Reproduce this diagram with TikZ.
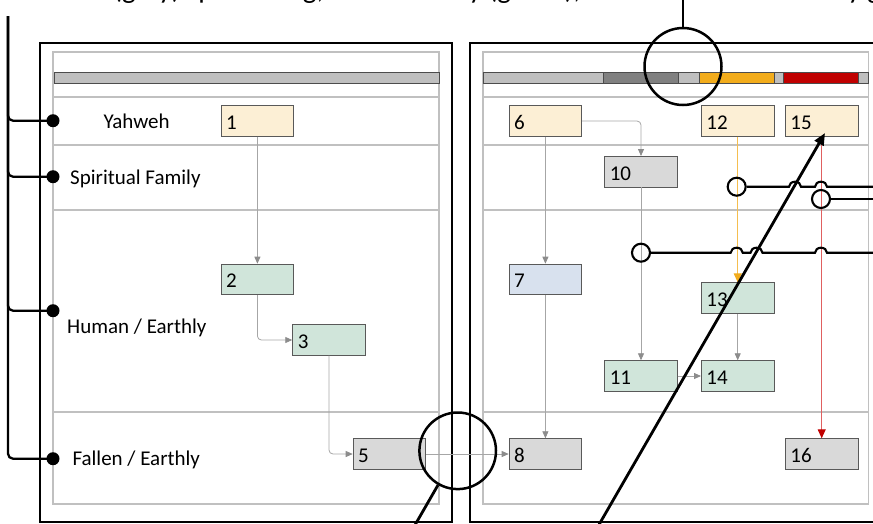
\documentclass[tikz,border=0pt]{standalone}
\usepackage{fontspec}
\setmainfont{Carlito}
\usetikzlibrary{arrows.meta}
\definecolor{cream}{HTML}{FCEFD5}
\definecolor{mint}{HTML}{D0E5DA}
\definecolor{pale}{HTML}{D8E1EE}
\definecolor{lgray}{HTML}{D9D9D9}
\definecolor{frameg}{HTML}{C0C0C0}
\definecolor{bargray}{HTML}{BFBFBF}
\definecolor{dkgray}{HTML}{808080}
\definecolor{orng}{HTML}{F2AC1C}
\definecolor{orngline}{HTML}{F5BE4F}
\definecolor{rd}{HTML}{C00000}
\definecolor{rdline}{HTML}{E06060}
\definecolor{arrg}{HTML}{A6A6A6}
\definecolor{arrtip}{HTML}{8C8C8C}
\begin{document}
\begin{tikzpicture}[x=1pt,y=-1pt,
  font=\fontsize{21}{25}\selectfont,
  box/.style={draw=black!65, line width=0.9pt, minimum height=30.5pt, text width=62.5pt,
    inner xsep=5pt, inner ysep=0pt, text height=17pt, text depth=0pt, align=left, anchor=north west},
  lane/.style={draw=frameg, line width=1.3pt},
  outer/.style={draw=black, line width=2.9pt},
  barseg/.style={draw=black!70, line width=0.7pt},
  flow/.style={draw=arrg, line width=0.8pt, rounded corners=4pt,
    -{Triangle[length=7pt,width=6pt,color=arrtip]}},
  oflow/.style={draw=orngline, line width=1pt, -{Triangle[length=9pt,width=8pt,color=orng]}},
  rflow/.style={draw=rdline, line width=1pt, -{Triangle[length=9pt,width=8pt,color=rd]}},
  callout/.style={draw=black, line width=2.8pt},
  wire/.style={draw=black, line width=2.1pt},
  ring/.style={circle, draw=black, line width=2.1pt, minimum size=18pt, inner sep=0pt},
  bigring/.style={circle, draw=black, line width=2.5pt, inner sep=0pt},
  dot/.style={circle, fill=black, minimum size=13pt, inner sep=0pt},
  lbl/.style={anchor=base west, inner sep=0pt}
]
\useasboundingbox (0,0) rectangle (873,523);
\clip (0,0) rectangle (873,523);

% top (cut) text
\node[lbl, font=\fontsize{29}{30}\selectfont] (title) at (113,-1.5)
  {(gray) sponsoring, the heavenly (green), at one with the Lord by grace};

% left panel
\draw[outer] (40,43) rectangle (452,522);
\draw[lane] (53,52) rectangle (439,504);
\draw[lane] (53,97) -- (439,97);
\draw[lane] (53,145) -- (439,145);
\draw[lane] (53,210) -- (439,210);
\draw[lane] (53,412) -- (439,412);
\draw[barseg, fill=bargray] (54,72.3) rectangle (439,83.3);

% right panel
\draw[outer] (470,43) rectangle (900,522);
\draw[lane] (483,52) rectangle (868.7,504);
\draw[lane] (483,97) -- (868.7,97);
\draw[lane] (483,145) -- (868.7,145);
\draw[lane] (483,210) -- (868.7,210);
\draw[lane] (483,412) -- (868.7,412);
\draw[barseg, fill=bargray] (483,72.3) rectangle (603.3,83.3);
\draw[barseg, fill=dkgray] (603.3,72.3) rectangle (678.3,83.3);
\draw[barseg, fill=bargray] (678.3,72.3) rectangle (699.3,83.3);
\draw[barseg, fill=orng] (699.3,72.3) rectangle (774.3,83.3);
\draw[barseg, fill=bargray] (774.3,72.3) rectangle (783.3,83.3);
\draw[barseg, fill=rd] (783.3,72.3) rectangle (858.7,83.3);
\draw[barseg, fill=bargray] (858.7,72.3) rectangle (868.7,83.3);

% lane labels
\node[lbl] (lYah) at (103.3,128.3) {Yahweh};
\node[lbl] (lSpi) at (70,184) {Spiritual Family};
\node[lbl] (lHum) at (67,333.3) {Human / Earthly};
\node[lbl] (lFal) at (72.3,465) {Fallen / Earthly};

% boxes
\node[box, fill=cream] (b1) at (220.7,105.3) {1};
\node[box, fill=mint] (b2) at (220.7,263.7) {2};
\node[box, fill=mint] (b3) at (292.3,324.3) {3};
\node[box, fill=lgray] (b5) at (352.7,438.3) {5};
\node[box, fill=cream] (b6) at (508.7,105.3) {6};
\node[box, fill=pale] (b7) at (508.7,263.7) {7};
\node[box, fill=lgray] (b8) at (508.7,438.3) {8};
\node[box, fill=lgray] (b10) at (604.3,156) {10};
\node[box, fill=mint] (b11) at (604.3,360.3) {11};
\node[box, fill=cream] (b12) at (701,105.3) {12};
\node[box, fill=mint] (b13) at (701,282.3) {13};
\node[box, fill=mint] (b14) at (701,360.3) {14};
\node[box, fill=cream] (b15) at (785,105.3) {15};
\node[box, fill=lgray] (b16) at (785,438.3) {16};

% flows
\draw[flow] (b1.south) -- (b2.north);
\draw[flow] (b2.south) |- (b3.west);
\draw[flow] (b3.south) |- (b5.west);
\draw[flow] (b5.east) -- (b8.west);
\draw[flow] (b6.east) -| (b10.north);
\draw[flow] (b6.south) -- (b7.north);
\draw[flow] (b7.south) -- (b8.north);
\draw[flow] (b10.south) -- (b11.north);
\draw[flow] (b11.east) -- (b14.west);
\draw[flow] (b13.south) -- (b14.north);
\draw[oflow] (b12.south) -- (b13.north);
\draw[rflow] (b15.south) -- (b16.north);

% left bracket with dots
\coordinate (vtop) at (8,16);
\node[dot] (d1) at (53,120.7) {};
\node[dot] (d2) at (53,176.7) {};
\node[dot] (d3) at (53,310.7) {};
\node[dot] (d4) at (53,458.7) {};
\draw[callout, line width=2.3pt, rounded corners=5pt] (vtop) |- (d1.center);
\draw[callout, line width=2.3pt, rounded corners=5pt] (vtop) |- (d2.center);
\draw[callout, line width=2.3pt, rounded corners=5pt] (vtop) |- (d3.center);
\draw[callout, line width=2.3pt, rounded corners=5pt] (vtop) |- (d4.center);

% big callout rings
\node[bigring, minimum size=77pt] (c1) at (683,66.5) {};
\coordinate (t1) at (683,-2);
\draw[callout] (t1) -- (c1.north);
\node[bigring, minimum size=76.6pt] (c2) at (457.7,450.8) {};
\coordinate (t2) at (415,525);
\draw[callout] (t2) -- (c2);

% diagonal arrow
\coordinate (g0) at (598.8,525);
\coordinate (g1) at (825,133);
\draw[callout, -{Triangle[length=12pt,width=10pt]}] (g0) -- (g1);

% wires with hops
\node[ring] (o1) at (736.7,186.7) {};
\node[ring] (o2) at (821,199) {};
\node[ring] (o3) at (641,252.7) {};
\coordinate (w1e) at (880,186.7);
\coordinate (w2e) at (880,199);
\coordinate (w3e) at (880,252.7);
\draw[wire] (o1.east) -- (789,186.7) arc[start angle=180,end angle=360,x radius=6,y radius=5]
  -- (815,186.7) arc[start angle=180,end angle=360,x radius=6,y radius=5] -- (w1e);
\draw[wire] (o2.east) -- (w2e);
\draw[wire] (o3.east) -- (730.7,252.7) arc[start angle=180,end angle=360,x radius=6,y radius=5]
  -- (750.5,252.7) arc[start angle=180,end angle=360,x radius=6,y radius=5]
  -- (815,252.7) arc[start angle=180,end angle=360,x radius=6,y radius=5] -- (w3e);
\end{tikzpicture}
\end{document}
